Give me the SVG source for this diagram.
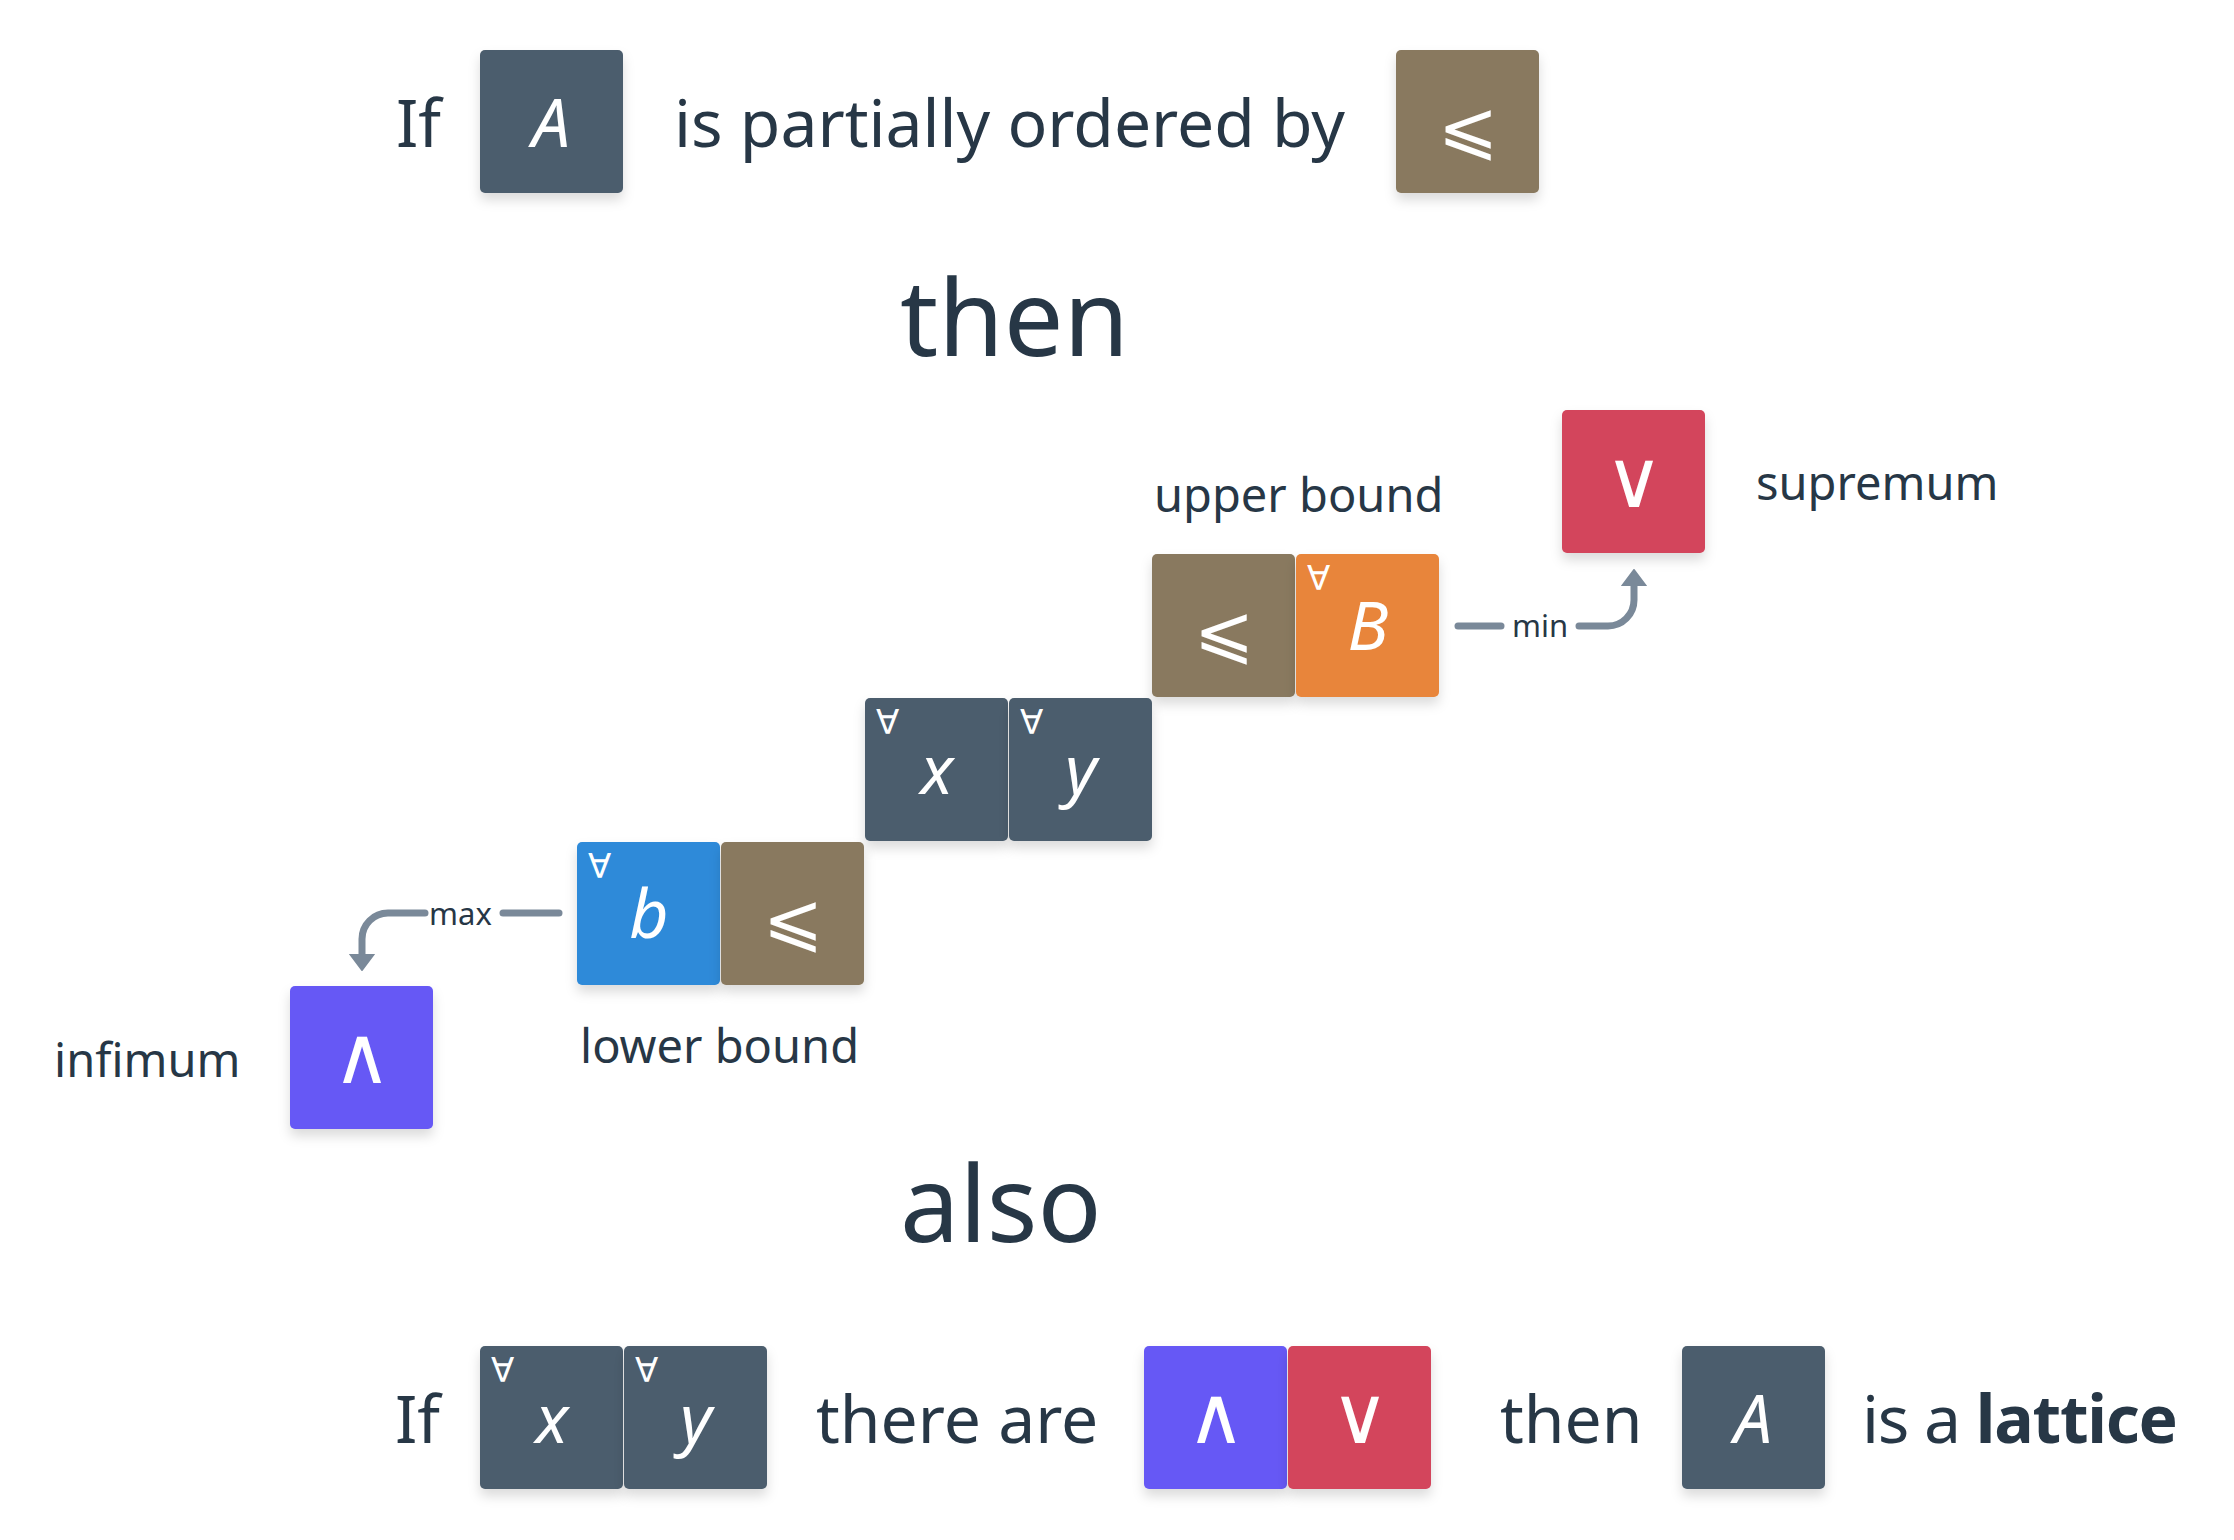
<svg xmlns="http://www.w3.org/2000/svg" width="2234" height="1540" viewBox="0 0 2234 1540">
<defs>
<filter id="sh" x="-20%" y="-20%" width="140%" height="150%">
<feDropShadow dx="0" dy="7" stdDeviation="6" flood-color="#000" flood-opacity="0.14"/>
</filter>
<marker id="ah" viewBox="0 0 17 26" refX="0" refY="13" markerWidth="17" markerHeight="26" markerUnits="userSpaceOnUse" orient="auto">
<path d="M0,1 L16,13 L0,25 z" fill="#7a8999" stroke="#7a8999" stroke-width="2" stroke-linejoin="round"/>
</marker>
</defs>
<style>
.t{font-family:"Noto Sans","DejaVu Sans",sans-serif;fill:#273746}
.row{font-size:66px}
.big{font-size:106px}
.lab{font-size:47px}
.cl{font-size:31px}
.b{filter:url(#sh)}
.g{font-family:"Noto Sans","DejaVu Sans",sans-serif;font-style:italic;font-size:68px;fill:#fff;text-anchor:middle}
.m{font-family:"DejaVu Sans",sans-serif;fill:#fff;text-anchor:middle}
.le{font-size:72px}
.lv{font-size:80px}
.fa{font-family:"DejaVu Sans",sans-serif;font-size:34px;fill:#fff}
.slate{fill:#4b5d6d}.brown{fill:#89795e}.orange{fill:#e8853a}.red{fill:#d3455b}.blue{fill:#2e8ad9}.purple{fill:#6659f5}
.c{fill:none;stroke:#7a8999;stroke-width:7;stroke-linecap:round}
</style>
<rect width="2234" height="1540" fill="#fff"/>

<text class="t row" x="396" y="147">If</text>
<g id="n-A"><rect class="b slate" x="480" y="50" width="143" height="143" rx="5"/><text class="g" x="551" y="147">A</text></g>
<text class="t row" x="674" y="147">is partially ordered by</text>
<g id="n-le1"><rect class="b brown" x="1396" y="50" width="143" height="143" rx="5"/><text class="m le" x="1468" y="152">⩽</text></g>

<text class="t big" x="900" y="356">then</text>

<g id="n-sup"><rect class="b red" x="1562" y="410" width="143" height="143" rx="5"/><text class="m lv" x="1634" y="507">∨</text></g>
<text class="t lab" x="1756" y="500">supremum</text>

<text class="t lab" x="1154" y="512">upper bound</text>
<g id="n-le2"><rect class="b brown" x="1152" y="554" width="143" height="143" rx="5"/><text class="m le" x="1224" y="656">⩽</text></g>
<g id="n-B"><rect class="b orange" x="1296" y="554" width="143" height="143" rx="5"/><text class="fa" x="1307" y="590">∀</text><text class="g" x="1368" y="650">B</text></g>

<g id="n-x"><rect class="b slate" x="865" y="698" width="143" height="143" rx="5"/><text class="fa" x="876" y="734">∀</text><text class="g" x="937" y="794">x</text></g>
<g id="n-y"><rect class="b slate" x="1009" y="698" width="143" height="143" rx="5"/><text class="fa" x="1020" y="734">∀</text><text class="g" x="1081" y="794">y</text></g>

<g id="n-b"><rect class="b blue" x="577" y="842" width="143" height="143" rx="5"/><text class="fa" x="588" y="878">∀</text><text class="g" x="649" y="938">b</text></g>
<g id="n-le3"><rect class="b brown" x="721" y="842" width="143" height="143" rx="5"/><text class="m le" x="793" y="944">⩽</text></g>
<text class="t lab" x="580" y="1063">lower bound</text>

<g id="n-inf"><rect class="b purple" x="290" y="986" width="143" height="143" rx="5"/><text class="m lv" x="362" y="1083">∧</text></g>
<text class="t lab" x="54" y="1077">infimum</text>

<g id="connectors">
<path class="c" d="M1458 626 H1501"/>
<path class="c" d="M1579 626 H1608 A26 26 0 0 0 1634 600 V586" marker-end="url(#ah)"/>
<text class="t cl" x="1512" y="637">min</text>
<path class="c" d="M559 913 H503"/>
<path class="c" d="M425 913 H388 A26 26 0 0 0 362 939 V954" marker-end="url(#ah)"/>
<text class="t cl" x="429" y="925">max</text>
</g>

<text class="t big" x="900" y="1242">also</text>

<text class="t row" x="395" y="1443">If</text>
<g id="n-x2"><rect class="b slate" x="480" y="1346" width="143" height="143" rx="5"/><text class="fa" x="491" y="1382">∀</text><text class="g" x="552" y="1443">x</text></g>
<g id="n-y2"><rect class="b slate" x="624" y="1346" width="143" height="143" rx="5"/><text class="fa" x="635" y="1382">∀</text><text class="g" x="696" y="1443">y</text></g>
<text class="t row" x="816" y="1443">there are</text>
<g id="n-inf2"><rect class="b purple" x="1144" y="1346" width="143" height="143" rx="5"/><text class="m lv" x="1216" y="1443">∧</text></g>
<g id="n-sup2"><rect class="b red" x="1288" y="1346" width="143" height="143" rx="5"/><text class="m lv" x="1360" y="1443">∨</text></g>
<text class="t row" x="1500" y="1443">then</text>
<g id="n-A2"><rect class="b slate" x="1682" y="1346" width="143" height="143" rx="5"/><text class="g" x="1753" y="1443">A</text></g>
<text class="t row" x="1862" y="1443" textLength="316">is a <tspan font-weight="bold">lattice</tspan></text>
</svg>
